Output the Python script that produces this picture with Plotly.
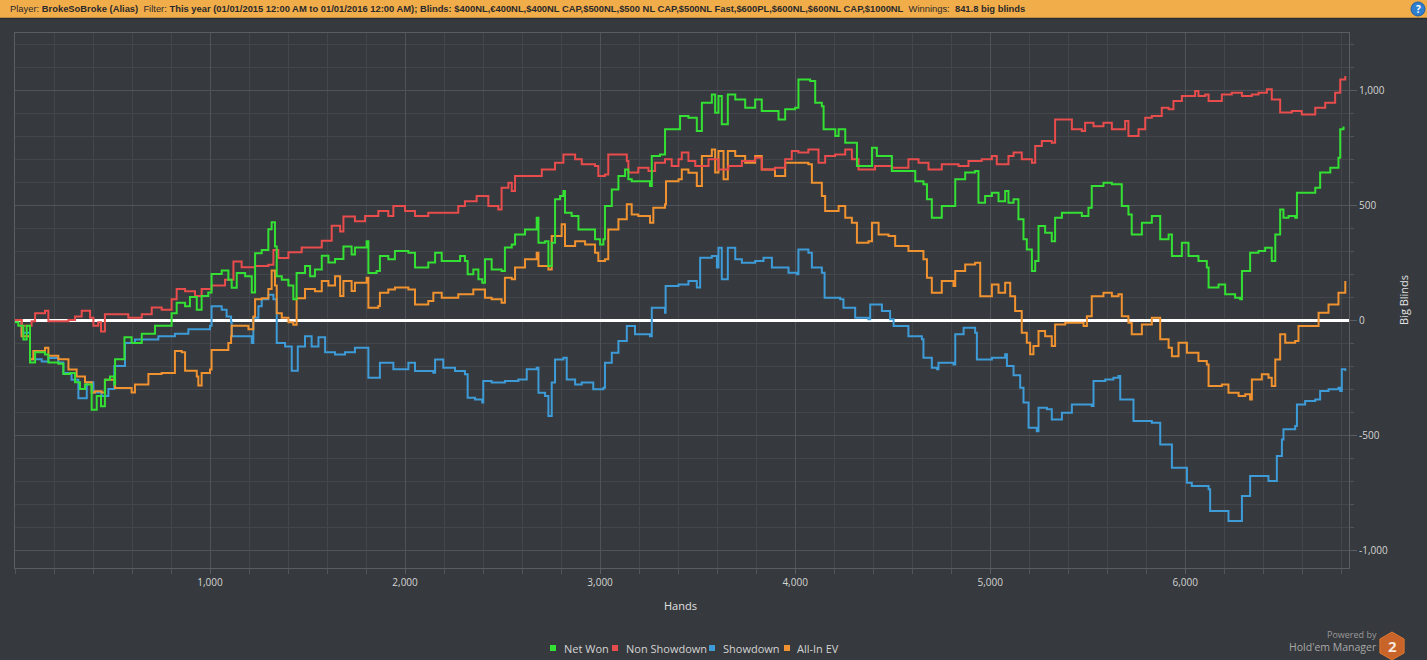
import plotly.graph_objects as go

# ---------------- data ----------------
series_names = ["Net Won", "Non Showdown", "Showdown", "All-In EV"]
series_colors = ["#33e033", "#e84c4c", "#3d9bd8", "#f0922f"]

net_won_hands = [0, 17, 43, 60, 77, 103, 154, 171, 222, 248, 282, 308, 333, 359, 393, 419, 441, 461, 487, 509,
                 513, 547, 561, 598, 650, 718, 786, 803, 829, 872, 897, 932, 957, 991, 1008, 1060, 1094, 1111,
                 1137, 1180, 1214, 1231, 1265, 1299, 1316, 1333, 1342, 1368, 1402, 1427, 1444, 1487, 1513, 1538,
                 1573, 1607, 1641, 1684, 1726, 1743, 1803, 1812, 1854, 1871, 1914, 1948, 2017, 2051, 2119, 2154,
                 2188, 2239, 2282, 2307, 2321, 2350, 2376, 2396, 2410, 2444, 2495, 2512, 2547, 2564, 2615, 2675,
                 2684, 2718, 2735, 2752, 2769, 2795, 2812, 2820, 2854, 2889, 2940, 2974, 3000, 3017, 3025, 3060,
                 3094, 3128, 3145, 3162, 3196, 3256, 3265, 3307, 3333, 3376, 3410, 3453, 3496, 3522, 3573, 3590,
                 3607, 3624, 3641, 3655, 3693, 3744, 3795, 3829, 3881, 3915, 3949, 4000, 4017, 4077, 4103, 4137,
                 4146, 4206, 4223, 4257, 4291, 4317, 4376, 4394, 4419, 4462, 4496, 4564, 4616, 4658, 4676, 4701,
                 4752, 4812, 4821, 4872, 4923, 4940, 4974, 5009, 5043, 5077, 5094, 5120, 5145, 5171, 5188, 5214,
                 5231, 5248, 5282, 5316, 5333, 5368, 5419, 5470, 5504, 5521, 5581, 5624, 5658, 5675, 5709, 5726,
                 5778, 5829, 5863, 5872, 5915, 5932, 5983, 6017, 6068, 6111, 6120, 6171, 6205, 6256, 6282, 6291,
                 6325, 6333, 6376, 6410, 6444, 6462, 6487, 6504, 6530, 6564, 6573, 6615, 6667, 6692, 6744, 6786,
                 6795, 6812]
net_won_bb = [-10, -25, -85, -25, -185, -140, -150, -185, -190, -235, -230, -270, -300, -280, -390, -330, -375,
              -260, -245, -280, -170, -170, -75, -100, -60, -25, -25, 30, 75, 60, 100, 45, 105, 120, 200, 215,
              175, 140, 205, 190, 120, 290, 305, 395, 425, 320, 190, 175, 150, 90, 205, 235, 190, 220, 280, 250,
              265, 320, 285, 315, 343, 205, 213, 278, 264, 300, 293, 228, 250, 293, 257, 257, 278, 257, 199, 220,
              177, 162, 264, 220, 213, 315, 329, 372, 394, 445, 336, 343, 235, 336, 525, 539, 561, 467, 452, 394,
              394, 351, 329, 351, 496, 568, 626, 655, 612, 604, 604, 583, 713, 720, 829, 829, 887, 880, 822, 945,
              981, 901, 974, 851, 851, 981, 959, 923, 959, 909, 909, 872, 916, 923, 1046, 1039, 945, 930, 829,
              800, 829, 771, 771, 670, 670, 749, 713, 713, 648, 648, 604, 590, 525, 445, 496, 496, 612, 641, 648,
              510, 539, 554, 517, 561, 510, 525, 438, 351, 307, 213, 257, 409, 380, 343, 445, 467, 467, 452, 488,
              583, 597, 590, 590, 496, 459, 372, 423, 452, 452, 351, 372, 278, 336, 278, 257, 228, 141, 155, 112,
              97, 90, 213, 213, 293, 300, 314, 257, 372, 481, 445, 452, 445, 554, 554, 575, 641, 662, 706, 829,
              842]

non_sd_hands = [0, 34, 85, 103, 154, 171, 222, 274, 308, 342, 385, 402, 427, 441, 461, 513, 564, 581, 650, 701,
                752, 803, 829, 872, 923, 957, 1008, 1077, 1120, 1162, 1231, 1299, 1325, 1350, 1402, 1470, 1538,
                1573, 1624, 1667, 1684, 1743, 1795, 1863, 1914, 1940, 2000, 2051, 2119, 2205, 2273, 2307, 2367,
                2427, 2478, 2495, 2530, 2547, 2564, 2649, 2701, 2769, 2812, 2872, 2906, 2974, 2991, 3025, 3042,
                3094, 3137, 3145, 3196, 3248, 3282, 3333, 3367, 3402, 3419, 3453, 3488, 3556, 3607, 3658, 3727,
                3795, 3829, 3897, 3949, 3983, 4017, 4068, 4120, 4154, 4205, 4257, 4291, 4325, 4410, 4496, 4581,
                4633, 4684, 4752, 4838, 4889, 4957, 5009, 5034, 5094, 5120, 5162, 5214, 5231, 5265, 5316, 5333,
                5368, 5419, 5470, 5487, 5530, 5581, 5624, 5667, 5692, 5709, 5761, 5795, 5829, 5880, 5915, 5940,
                5983, 6051, 6068, 6103, 6120, 6188, 6239, 6291, 6342, 6376, 6419, 6444, 6479, 6487, 6547, 6598,
                6667, 6718, 6769, 6795, 6821]
non_sd_bb = [0, -25, -5, 30, 40, -5, -5, 0, 15, 40, 10, -25, -10, -50, 25, 25, 25, 10, 25, 55, 45, 90, 135, 125,
             105, 135, 150, 175, 255, 230, 235, 240, 305, 270, 295, 315, 315, 345, 410, 385, 450, 430, 452, 474,
             452, 496, 474, 452, 467, 467, 496, 517, 539, 496, 481, 575, 597, 561, 626, 626, 655, 684, 720, 699,
             677, 670, 626, 633, 720, 720, 691, 641, 662, 648, 684, 699, 670, 699, 728, 691, 670, 699, 655, 670,
             691, 706, 655, 662, 699, 735, 728, 742, 684, 713, 720, 742, 699, 655, 670, 662, 699, 684, 655, 677,
             670, 691, 699, 713, 677, 713, 728, 699, 684, 757, 778, 771, 872, 872, 829, 822, 858, 843, 858, 829,
             829, 865, 800, 829, 880, 887, 923, 916, 952, 974, 996, 974, 981, 952, 981, 988, 974, 981, 988, 1003,
             959, 959, 902, 909, 894, 923, 945, 988, 1046, 1061]

showdown_hands = [0, 34, 77, 137, 171, 222, 248, 290, 325, 350, 368, 402, 444, 479, 509, 556, 564, 615, 684, 735,
                  820, 889, 1000, 1008, 1060, 1085, 1108, 1111, 1162, 1197, 1214, 1222, 1248, 1265, 1299, 1325,
                  1342, 1385, 1410, 1419, 1444, 1450, 1479, 1487, 1521, 1556, 1590, 1641, 1692, 1743, 1803, 1812,
                  1863, 1871, 1940, 2017, 2051, 2145, 2154, 2196, 2256, 2307, 2321, 2359, 2396, 2401, 2444, 2512,
                  2581, 2624, 2675, 2684, 2718, 2735, 2752, 2769, 2812, 2829, 2872, 2906, 2965, 3017, 3025, 3060,
                  3094, 3137, 3179, 3256, 3265, 3333, 3336, 3402, 3453, 3496, 3513, 3573, 3599, 3607, 3624, 3650,
                  3655, 3693, 3727, 3795, 3838, 3881, 3966, 4009, 4017, 4068, 4086, 4137, 4151, 4231, 4248, 4308,
                  4376, 4385, 4445, 4487, 4505, 4581, 4650, 4658, 4701, 4727, 4735, 4812, 4821, 4864, 4923, 4932,
                  5009, 5077, 5086, 5120, 5154, 5171, 5197, 5239, 5248, 5291, 5316, 5359, 5368, 5410, 5419, 5521,
                  5530, 5590, 5632, 5658, 5667, 5726, 5735, 5829, 5863, 5872, 5923, 5932, 6000, 6009, 6034, 6068,
                  6120, 6128, 6205, 6222, 6282, 6291, 6325, 6333, 6427, 6462, 6470, 6496, 6504, 6564, 6573, 6615,
                  6667, 6692, 6735, 6786, 6795, 6803, 6821]
showdown_bb = [0, -55, -170, -180, -165, -185, -230, -260, -340, -340, -270, -315, -330, -300, -200, -200, -100,
               -85, -85, -70, -60, -40, -25, 60, 45, 15, -10, -70, -70, -70, -100, 10, 60, 90, 110, 90, -100, -115,
               -115, -220, -220, -115, -115, -70, -115, -75, -140, -150, -140, -120, -120, -251, -251, -186, -214,
               -186, -222, -229, -171, -207, -222, -236, -338, -345, -359, -265, -272, -265, -258, -214, -207,
               -316, -330, -417, -272, -171, -164, -258, -280, -272, -301, -294, -186, -142, -91, -26, -62, -70,
               54, 32, 148, 155, 170, 141, 271, 278, 228, 314, 177, 177, 314, 264, 249, 257, 271, 228, 206, 199,
               307, 293, 228, 206, 97, 90, 54, 10, 3, 68, 39, 3, -26, -70, -84, -164, -207, -214, -186, -193, -62,
               -33, -55, -171, -164, -149, -200, -240, -294, -359, -468, -483, -381, -388, -432, -432, -403, -403,
               -367, -374, -265, -258, -251, -243, -345, -345, -439, -446, -446, -541, -541, -642, -642, -707,
               -722, -722, -736, -830, -830, -874, -874, -765, -765, -678, -700, -700, -591, -519, -475, -461,
               -367, -352, -345, -309, -301, -294, -309, -214, -222]

allin_ev_hands = [0, 34, 77, 94, 154, 171, 222, 274, 316, 359, 393, 410, 444, 461, 496, 513, 564, 598, 615, 684,
                  752, 786, 820, 855, 872, 932, 940, 957, 1000, 1008, 1060, 1094, 1108, 1111, 1162, 1197, 1222,
                  1231, 1265, 1299, 1316, 1333, 1342, 1368, 1402, 1427, 1444, 1487, 1538, 1573, 1607, 1641, 1667,
                  1684, 1726, 1743, 1803, 1812, 1863, 1871, 1914, 1948, 2017, 2051, 2119, 2145, 2188, 2273, 2350,
                  2410, 2444, 2495, 2512, 2547, 2564, 2615, 2675, 2684, 2735, 2752, 2803, 2820, 2872, 2923, 2974,
                  2991, 3025, 3042, 3094, 3137, 3162, 3196, 3256, 3273, 3333, 3338, 3402, 3419, 3453, 3496, 3522,
                  3573, 3590, 3607, 3633, 3655, 3693, 3744, 3795, 3829, 3897, 3949, 4000, 4068, 4086, 4137, 4154,
                  4223, 4257, 4291, 4317, 4376, 4394, 4428, 4479, 4513, 4581, 4658, 4676, 4701, 4752, 4812, 4821,
                  4872, 4923, 4949, 5009, 5043, 5077, 5103, 5128, 5162, 5188, 5205, 5222, 5248, 5282, 5316, 5333,
                  5385, 5436, 5479, 5496, 5521, 5581, 5624, 5658, 5675, 5709, 5726, 5778, 5829, 5863, 5872, 5915,
                  5932, 5966, 6009, 6068, 6111, 6120, 6188, 6222, 6274, 6308, 6333, 6342, 6393, 6427, 6444, 6462,
                  6487, 6513, 6564, 6581, 6632, 6684, 6735, 6786, 6821]
allin_ev_bb = [0, -70, -170, -135, -120, -155, -170, -215, -245, -270, -315, -310, -315, -260, -260, -295, -295,
               -315, -280, -235, -230, -230, -135, -140, -220, -245, -285, -230, -215, -130, -130, -100, -70, -25,
               -25, -40, 15, 90, 95, 135, 215, 150, 30, 10, -10, -20, 95, 135, 125, 170, 150, 190, 105, 170, 126,
               162, 184, 54, 61, 119, 133, 141, 133, 68, 83, 119, 97, 112, 133, 97, 90, 75, 184, 177, 228, 264,
               293, 235, 220, 365, 416, 322, 343, 329, 293, 257, 264, 394, 438, 503, 459, 452, 423, 488, 503, 604,
               612, 655, 640, 583, 713, 742, 641, 735, 612, 735, 713, 684, 713, 655, 626, 684, 684, 677, 597, 539,
               474, 496, 445, 423, 336, 343, 423, 372, 365, 322, 300, 264, 184, 119, 170, 148, 213, 242, 249, 104,
               155, 119, 162, 104, 39, -55, -99, -149, -113, -48, -70, -113, -19, -12, -12, -26, 17, 104, 119,
               104, 112, 17, -12, -62, -19, 10, 10, -84, -120, -157, -99, -142, -178, -193, -287, -280, -316, -330,
               -323, -345, -258, -236, -251, -287, -171, -62, -99, -91, -26, -26, 32, 68, 119, 170]

x_tick_vals = [1000, 2000, 3000, 4000, 5000, 6000]
x_tick_text = ["1,000", "2,000", "3,000", "4,000", "5,000", "6,000"]
y_tick_vals = [-1000, -500, 0, 500, 1000]
y_tick_text = ["-1,000", "-500", "0", "500", "1,000"]

header_html = ("Player: <b>BrokeSoBroke (Alias)</b>  Filter: <b>This year (01/01/2015 12:00 AM to 01/01/2016 "
               "12:00 AM); Blinds: $400NL,€400NL,$400NL CAP,$500NL,$500 NL CAP,$500NL Fast,$600PL,$600NL,"
               "$600NL CAP,$1000NL</b>  Winnings:  <b>841.8 big blinds</b>")

# ---------------- figure ----------------
W, H = 1427, 660
ML, MR, MT, MB = 15, 78, 33, 92
PW, PH = W - ML - MR, H - MT - MB


def px(x):
    return (x - ML) / PW


def py(y):
    return (H - MB - y) / PH


BG = "#36393d"
TXT = "#d4d4d4"

fig = go.Figure()

series = [(net_won_hands, net_won_bb), (non_sd_hands, non_sd_bb),
          (showdown_hands, showdown_bb), (allin_ev_hands, allin_ev_bb)]
# draw order: Showdown, All-In EV, Non Showdown, Net Won on top
for idx in [2, 3, 1, 0]:
    hx, hy = series[idx]
    fig.add_trace(go.Scatter(x=hx, y=hy, mode="lines", name=series_names[idx],
                             line=dict(color=series_colors[idx], width=2, shape="hv"),
                             showlegend=False, hoverinfo="x+y+name"))

fig.update_layout(
    width=W, height=H,
    margin=dict(l=ML, r=MR, t=MT, b=MB, pad=0),
    paper_bgcolor=BG, plot_bgcolor=BG,
    font=dict(family="Open Sans, Noto Sans, sans-serif", size=10, color=TXT),
    showlegend=False,
    xaxis=dict(range=[0, 6840], tickvals=x_tick_vals, ticktext=x_tick_text,
               showgrid=True, gridcolor="#50535a", gridwidth=1,
               zeroline=False, showline=True, linecolor="#5a5d62", mirror=True,
               ticks="outside", ticklen=5, tickcolor="#5a5d62",
               minor=dict(dtick=200, tick0=0, showgrid=True, gridcolor="#43464b",
                          ticks="outside", ticklen=5, tickcolor="#50535a"),
               tickfont=dict(size=10, color=TXT)),
    yaxis=dict(range=[-1078, 1248], tickvals=y_tick_vals, ticktext=y_tick_text, side="right",
               showgrid=True, gridcolor="#50535a", gridwidth=1,
               zeroline=True, zerolinecolor="#ffffff", zerolinewidth=2.5,
               showline=True, linecolor="#5a5d62", mirror=True,
               ticks="outside", ticklen=7, tickcolor="#5a5d62",
               minor=dict(dtick=100, tick0=0, showgrid=True, gridcolor="#43464b",
                          ticks="outside", ticklen=4, tickcolor="#50535a"),
               tickfont=dict(size=10, color=TXT)),
)

shapes = [
    # orange header bar
    dict(type="rect", xref="paper", yref="paper", x0=px(0), x1=px(W), y0=py(18), y1=py(0),
         fillcolor="#f2ad4b", line=dict(width=0), layer="above"),
    dict(type="line", xref="paper", yref="paper", x0=px(0), x1=px(W), y0=py(18.5), y1=py(18.5),
         line=dict(color="#2b2d30", width=1.5), layer="above"),
    # help icon
    dict(type="circle", xref="paper", yref="paper", x0=px(1411), x1=px(1425), y0=py(16), y1=py(2),
         fillcolor="#2f7fd0", line=dict(color="#1d5fa8", width=1), layer="above"),
]
# Hold'em Manager hexagon logo
cx, cy, r = 1392, 646, 14
hexpts = [(cx, cy - r), (cx + 0.866 * r, cy - r / 2), (cx + 0.866 * r, cy + r / 2),
          (cx, cy + r), (cx - 0.866 * r, cy + r / 2), (cx - 0.866 * r, cy - r / 2)]
path = "M " + " L ".join(f"{px(a):.5f},{py(b):.5f}" for a, b in hexpts) + " Z"
shapes.append(dict(type="path", xref="paper", yref="paper", path=path,
                   fillcolor="#c8642a", line=dict(color="#d9772f", width=1), layer="above"))

# legend swatches (square markers)
legend_sq_x = [553, 615, 712, 787]
legend_txt_x = [562, 624, 721, 795]
for sx, col in zip(legend_sq_x, series_colors):
    shapes.append(dict(type="rect", xref="paper", yref="paper", x0=px(sx - 3), x1=px(sx + 3),
                       y0=py(651), y1=py(645), fillcolor=col, line=dict(width=0), layer="above"))
fig.update_layout(shapes=shapes)

annotations = [
    dict(text=header_html, xref="paper", yref="paper", x=px(8), y=py(9), xanchor="left", yanchor="middle",
         showarrow=False, font=dict(family="Liberation Sans, Arial, sans-serif", size=9.4, color="#2a2a2a")),
    dict(text="<b>?</b>", xref="paper", yref="paper", x=px(1418), y=py(9), xanchor="center", yanchor="middle",
         showarrow=False, font=dict(size=10, color="#ffffff")),
    dict(text="Hands", xref="paper", yref="paper", x=px(680), y=py(605), xanchor="center", yanchor="middle",
         showarrow=False, font=dict(size=11, color="#e0e0e0")),
    dict(text="Big Blinds", xref="paper", yref="paper", x=px(1403), y=py(300), xanchor="center",
         yanchor="middle", textangle=-90, showarrow=False, font=dict(size=11, color="#e0e0e0")),
    dict(text="Powered by", xref="paper", yref="paper", x=px(1379), y=py(634), xanchor="right",
         yanchor="middle", showarrow=False, font=dict(size=9, color="#9a9a9a")),
    dict(text="Hold'em Manager", xref="paper", yref="paper", x=px(1379), y=py(647), xanchor="right",
         yanchor="middle", showarrow=False, font=dict(size=10.5, color="#a8a8a8")),
    dict(text="<b>2</b>", xref="paper", yref="paper", x=px(1392), y=py(646), xanchor="center",
         yanchor="middle", showarrow=False, font=dict(size=15, color="#f4e6da")),
]
for tx, name in zip(legend_txt_x, series_names):
    annotations.append(dict(text=name, xref="paper", yref="paper", x=px(tx), y=py(648), xanchor="left",
                            yanchor="middle", showarrow=False, font=dict(size=11, color=TXT)))
fig.update_layout(annotations=annotations)

fig.write_html("out.html", config={"displayModeBar": False},
               post_script="document.body.style.margin='0';document.body.style.background='%s';"
                           "document.body.style.overflow='hidden';" % BG)
